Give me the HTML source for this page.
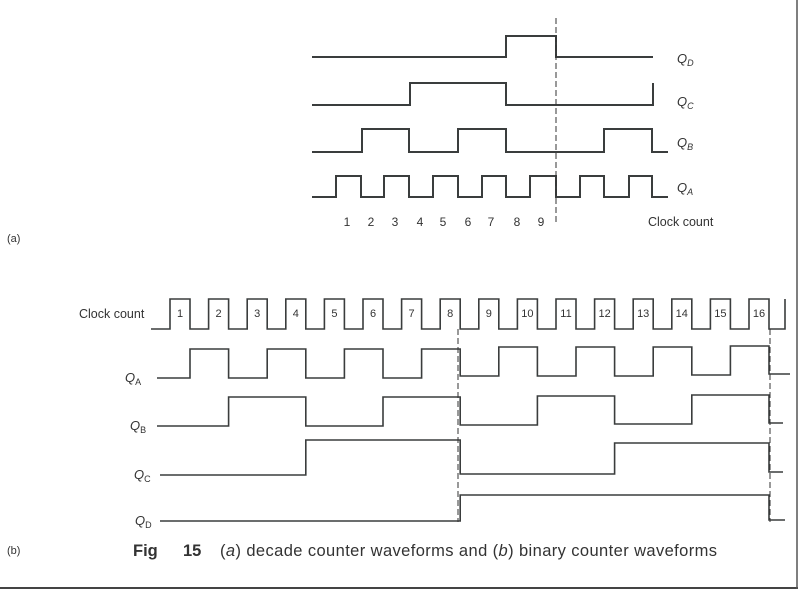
<!DOCTYPE html>
<html><head><meta charset="utf-8"><style>
html,body{margin:0;padding:0;background:#fff;}
svg{display:block;}
text{font-family:"Liberation Sans",sans-serif;fill:#333;}
</style></head><body>
<svg width="800" height="590" viewBox="0 0 800 590" xmlns="http://www.w3.org/2000/svg">
<rect x="0" y="0" width="800" height="590" fill="#fff"/>
<g fill="none" stroke="#3a3d3d" stroke-width="2">
<path d="M312 57 H506 V36 H556 V57 H653"/>
<path d="M312 105 H410 V83 H506 V105 H653 V83"/>
<path d="M312 152 H362 V129 H409 V152 H458 V129 H506 V152 H604 V129 H652 V152 H668"/>
<path d="M312 197 H336 V176 H361 V197 H384 V176 H409 V197 H433 V176 H458 V197 H482 V176 H506 V197 H530 V176 H556 V197 H580 V176 H604 V197 H629 V176 H652 V197 H668"/>
<path stroke-width="1.6" d="M151 329 H170 V299 H190 V329 H208.6 V299 H228.6 V329 H247.2 V299 H267.2 V329 H285.8 V299 H305.8 V329 H324.4 V299 H344.4 V329 H363 V299 H383 V329 H401.6 V299 H421.6 V329 H440.2 V299 H460.2 V329 H478.8 V299 H498.8 V329 H517.4 V299 H537.4 V329 H556 V299 H576 V329 H594.6 V299 H614.6 V329 H633.2 V299 H653.2 V329 H671.8 V299 H691.8 V329 H710.4 V299 H730.4 V329 H749 V299 H769 V329 H785 V299"/>
<path stroke-width="1.6" d="M157 378 H190 V349 H228.6 V378 H267.2 V349 H305.8 V378 H344.4 V349 H383 V378 H421.6 V349 H460.2 V376 H498.8 V347 H537.4 V376 H576 V347 H614.6 V376 H653.2 V347 H691.8 V375 H730.4 V346 H769 V374 H790"/>
<path stroke-width="1.6" d="M157 426 H228.6 V397 H305.8 V426 H383 V397 H460.2 V425 H537.4 V396 H614.6 V424 H691.8 V395 H769 V423 H783"/>
<path stroke-width="1.6" d="M160 475 H305.8 V440 H460.2 V474 H614.6 V443 H769 V472 H783"/>
<path stroke-width="1.6" d="M160 521 H460.2 V495 H769 V520 H785"/>
</g>
<g stroke="#333" stroke-width="1" stroke-dasharray="6,3">
<line x1="556" y1="18" x2="556" y2="224"/>
<line x1="458" y1="329" x2="458" y2="522"/>
<line x1="770" y1="329" x2="770" y2="522"/>
</g>
<line x1="0" y1="588" x2="798" y2="588" stroke="#444" stroke-width="2"/>
<line x1="797" y1="0" x2="797" y2="589" stroke="#555" stroke-width="1.5"/>

<g font-size="13" font-style="italic">
<text x="677" y="63">Q<tspan font-size="9" dy="3">D</tspan></text>
<text x="677" y="106">Q<tspan font-size="9" dy="3">C</tspan></text>
<text x="677" y="147">Q<tspan font-size="9" dy="3">B</tspan></text>
<text x="677" y="192">Q<tspan font-size="9" dy="3">A</tspan></text>
</g>
<g font-size="12" text-anchor="middle">
<text x="347" y="226">1</text><text x="371" y="226">2</text><text x="395" y="226">3</text>
<text x="420" y="226">4</text><text x="443" y="226">5</text><text x="468" y="226">6</text>
<text x="491" y="226">7</text><text x="517" y="226">8</text><text x="541" y="226">9</text>
</g>
<text x="648" y="226" font-size="12.5">Clock count</text>
<text x="7" y="242" font-size="11">(a)</text>

<text x="79" y="318" font-size="12.5">Clock count</text>
<g font-size="11" text-anchor="middle">
<text x="180" y="317">1</text><text x="218.6" y="317">2</text><text x="257.2" y="317">3</text><text x="295.8" y="317">4</text>
<text x="334.4" y="317">5</text><text x="373" y="317">6</text><text x="411.6" y="317">7</text><text x="450.2" y="317">8</text>
<text x="488.8" y="317">9</text><text x="527.4" y="317">10</text><text x="566" y="317">11</text><text x="604.6" y="317">12</text>
<text x="643.2" y="317">13</text><text x="681.8" y="317">14</text><text x="720.4" y="317">15</text><text x="759" y="317">16</text>
</g>
<g font-size="13" font-style="italic">
<text x="125" y="382">Q<tspan font-size="9" font-style="normal" dy="3">A</tspan></text>
<text x="130" y="430">Q<tspan font-size="9" font-style="normal" dy="3">B</tspan></text>
<text x="134" y="479">Q<tspan font-size="9" font-style="normal" dy="3">C</tspan></text>
<text x="135" y="525">Q<tspan font-size="9" font-style="normal" dy="3">D</tspan></text>
</g>
<text x="7" y="554" font-size="11">(b)</text>
<text x="133" y="556" font-size="16.5" font-weight="bold">Fig</text>
<text x="183" y="556" font-size="16.5" font-weight="bold">15</text>
<text x="220" y="556" font-size="16.5" textLength="497" lengthAdjust="spacing">(<tspan font-style="italic">a</tspan>) decade counter waveforms and (<tspan font-style="italic">b</tspan>) binary counter waveforms</text>
</svg>
</body></html>
